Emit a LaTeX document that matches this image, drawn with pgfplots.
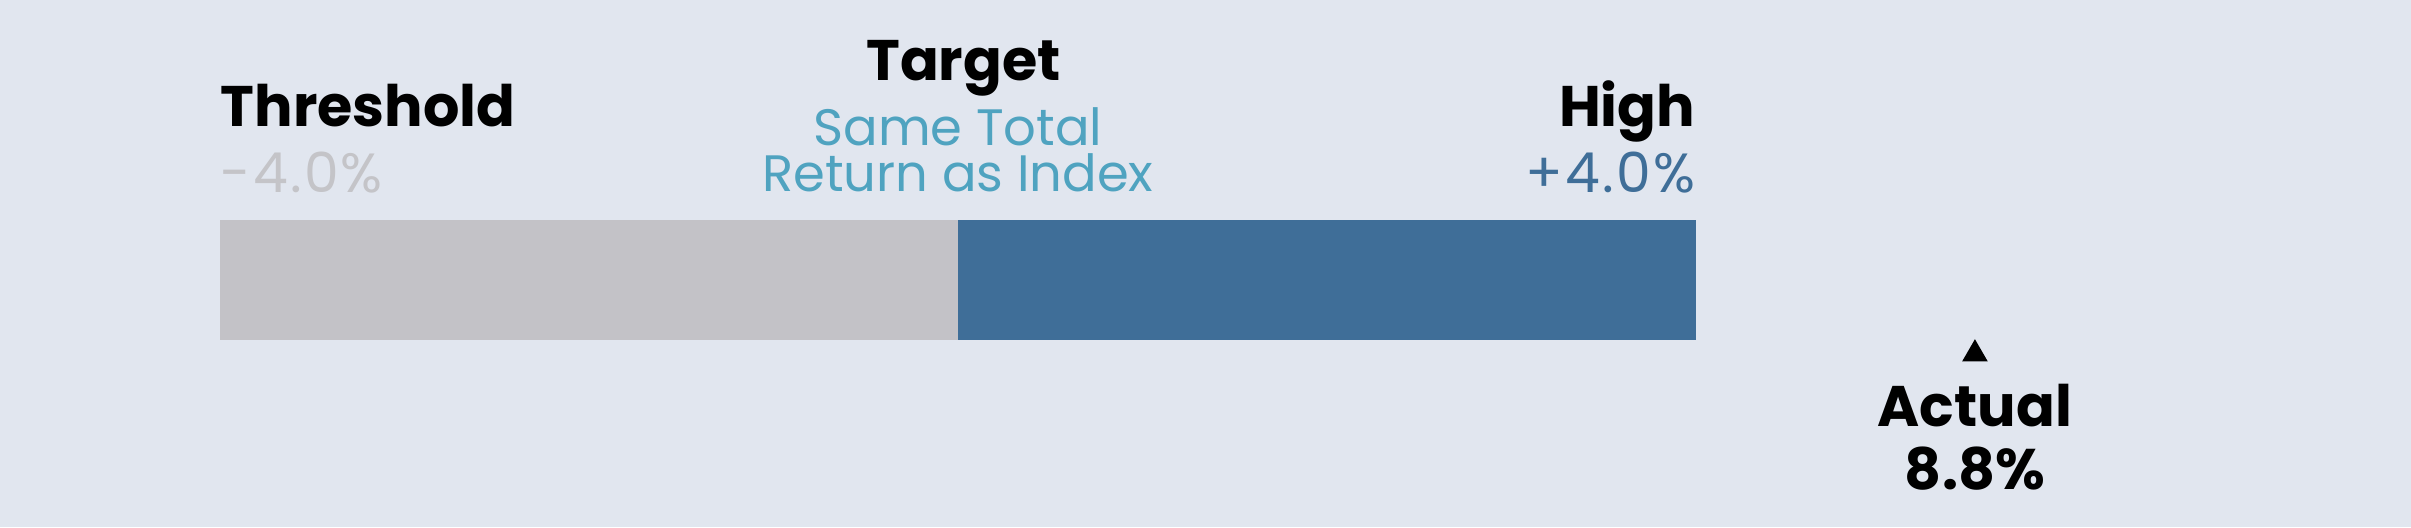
\documentclass[border=0pt]{standalone}
\usepackage{pgfplots}
\pgfplotsset{compat=1.18}
\usepackage{fontspec}
\setmainfont{Poppins}
\definecolor{bg}{HTML}{E1E6EF}
\definecolor{graybar}{HTML}{C3C2C7}
\definecolor{bluebar}{HTML}{3F6E98}
\definecolor{teal}{HTML}{4FA3C0}
\definecolor{lightgray}{HTML}{C4C4C8}
\tikzset{
  bold/.style={anchor=base, inner sep=0pt, font=\fontsize{14.3pt}{17pt}\selectfont\bfseries},
  reg/.style={anchor=base, inner sep=0pt, font=\fontsize{12.8pt}{15pt}\selectfont},
  num/.style={anchor=base, inner sep=0pt, font=\fontsize{13.8pt}{16pt}\selectfont\addfontfeatures{LetterSpace=4}},
}
\begin{document}
\begin{tikzpicture}[x=0.25pt,y=0.25pt]
\fill[bg] (0,0) rectangle (2411,527);
\begin{axis}[
  at={(0,0)}, anchor=south west,
  scale only axis, width=602.75pt, height=131.75pt,
  xmin=-5.1924, xmax=7.8753, ymin=0, ymax=527,
  hide axis, clip=false,
]
\addplot[xbar, fill=graybar, draw=none, bar width=120, bar shift=0pt] coordinates {(-4,247)};
\addplot[xbar, fill=bluebar, draw=none, bar width=120, bar shift=0pt] coordinates {(4,247)};
\addplot[only marks, mark=triangle*, mark size=3.3pt, black] coordinates {(5.512,173)};
\node[bold, anchor=base west] at (axis cs:-4,401) {Threshold};
\node[num, anchor=base west, text=lightgray] at (axis cs:-4,335) {-4.0\%};
\node[bold] at (axis cs:0.03,447) {Target};
\node[reg, text=teal] at (axis cs:0.0,382) {Same Total};
\node[reg, text=teal] at (axis cs:0.0,336) {Return as Index};
\node[bold, anchor=base east] at (axis cs:4,401) {High};
\node[num, anchor=base east, text=bluebar] at (axis cs:4,335) {+4.0\%};
\node[bold] at (axis cs:5.512,101) {Actual};
\node[bold] at (axis cs:5.512,38) {8.8\%};
\end{axis}
\end{tikzpicture}
\end{document}
